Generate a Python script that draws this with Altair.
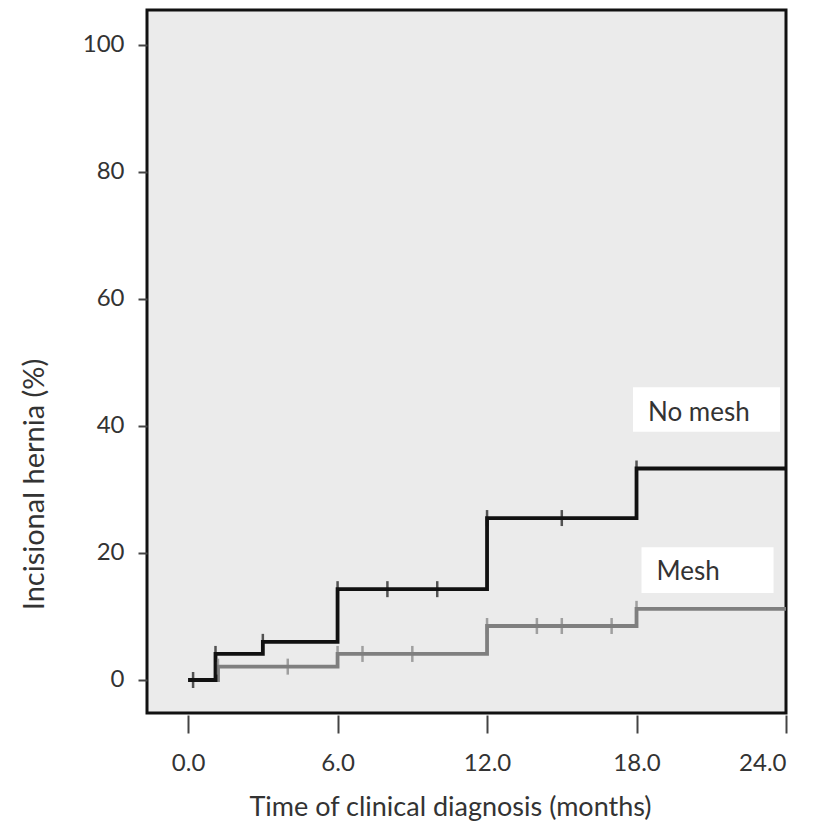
import altair as alt
import pandas as pd

# Step curves (Kaplan-Meier style cumulative incidence, %)
nomesh_time = [0, 1.1, 3, 6, 12, 18, 24]
nomesh_pct = [0, 4.1, 6.0, 14.3, 25.5, 33.3, 33.3]
mesh_time = [0, 1.2, 6, 12, 18, 24]
mesh_pct = [0, 2.1, 4.1, 8.5, 11.2, 11.2]

# Censoring marks
nomesh_cens_t = [0.2, 1.1, 3, 6, 8, 10, 12, 15, 18]
nomesh_cens_y = [0, 4.1, 6.0, 14.3, 14.3, 14.3, 25.5, 25.5, 33.3]
mesh_cens_t = [1.2, 4, 6, 7, 9, 12, 14, 15, 17, 18]
mesh_cens_y = [2.1, 2.1, 4.1, 4.1, 4.1, 8.5, 8.5, 8.5, 8.5, 11.2]

x_ticks = [0, 6, 12, 18, 24]
y_ticks = [0, 20, 40, 60, 80, 100]

groups = ["No mesh", "Mesh"]
label_x = [18.46, 18.8]
label_y = [42.0, 17.0]
box_x = [17.86, 18.2]
box_x2 = [23.76, 23.5]
box_y = [39.1, 13.7]
box_y2 = [46.1, 20.9]

FONT = "Lato"
TXT = "#333333"

lines_df = pd.concat([
    pd.DataFrame({"t": mesh_time, "p": mesh_pct, "g": "Mesh", "o": 0}),
    pd.DataFrame({"t": nomesh_time, "p": nomesh_pct, "g": "No mesh", "o": 1}),
])
cens_df = pd.concat([
    pd.DataFrame({"t": mesh_cens_t, "p": mesh_cens_y, "g": "Mesh"}),
    pd.DataFrame({"t": nomesh_cens_t, "p": nomesh_cens_y, "g": "No mesh"}),
])
lab_df = pd.DataFrame({"g": groups, "x": label_x, "y": label_y,
                       "bx": box_x, "bx2": box_x2, "by": box_y, "by2": box_y2})

xscale = alt.Scale(domain=[-1.65, 24], nice=False, zero=False)
yscale = alt.Scale(domain=[-5.2, 105.5], nice=False, zero=False)
cscale = alt.Scale(domain=["No mesh", "Mesh"], range=["#111111", "#7f7f7f"])

xaxis = alt.Axis(values=x_ticks, format=".1f", tickSize=18, offset=2, domain=False,
                 grid=False, tickColor="#444444", tickWidth=2,
                 labelFontSize=24, labelPadding=18, labelColor=TXT, labelFont=FONT,
                 title="Time of clinical diagnosis (months)", titleFontSize=27,
                 titleFont=FONT, titleColor=TXT, titleFontWeight="normal",
                 titleX=303, titleY=100, titleAlign="center", titleBaseline="alphabetic")
yaxis = alt.Axis(values=y_ticks, format="d", tickSize=9, domain=False, grid=False,
                 tickColor="#444444", tickWidth=2,
                 labelFontSize=24, labelPadding=14, labelColor=TXT, labelFont=FONT,
                 title="Incisional hernia (%)", titleFontSize=29, titleFont=FONT,
                 titleColor=TXT, titleFontWeight="normal",
                 titleX=-113, titleY=474, titleAngle=-90,
                 titleAlign="center", titleBaseline="middle")

boxes = alt.Chart(lab_df).mark_rect(color="white").encode(
    x=alt.X("bx:Q", scale=xscale, axis=xaxis),
    x2="bx2:Q",
    y=alt.Y("by:Q", scale=yscale, axis=yaxis),
    y2="by2:Q",
)

lines = alt.Chart(lines_df).mark_line(interpolate="step-after", strokeWidth=3.8).encode(
    x=alt.X("t:Q", scale=xscale),
    y=alt.Y("p:Q", scale=yscale),
    color=alt.Color("g:N", scale=cscale, legend=None),
    order="o:Q",
)

ticks = alt.Chart(cens_df).mark_tick(orient="vertical", size=16, thickness=2.5).encode(
    x=alt.X("t:Q", scale=xscale),
    y=alt.Y("p:Q", scale=yscale),
    color=alt.Color("g:N", scale=cscale, legend=None),
)

texts = alt.Chart(lab_df).mark_text(align="left", baseline="middle", fontSize=26,
                                    font=FONT, color=TXT).encode(
    x=alt.X("x:Q", scale=xscale),
    y=alt.Y("y:Q", scale=yscale),
    text="g:N",
)

chart = alt.layer(boxes, lines, ticks, texts).properties(
    width=639, height=703,
    autosize=alt.AutoSizeParams(type="none"),
    padding={"left": 147, "top": 10, "right": 32, "bottom": 110},
    background="white",
).configure_view(fill="#ebebeb", stroke="#111111", strokeWidth=3)

chart.save("out.html", embed_options={"renderer": "svg", "actions": False})
